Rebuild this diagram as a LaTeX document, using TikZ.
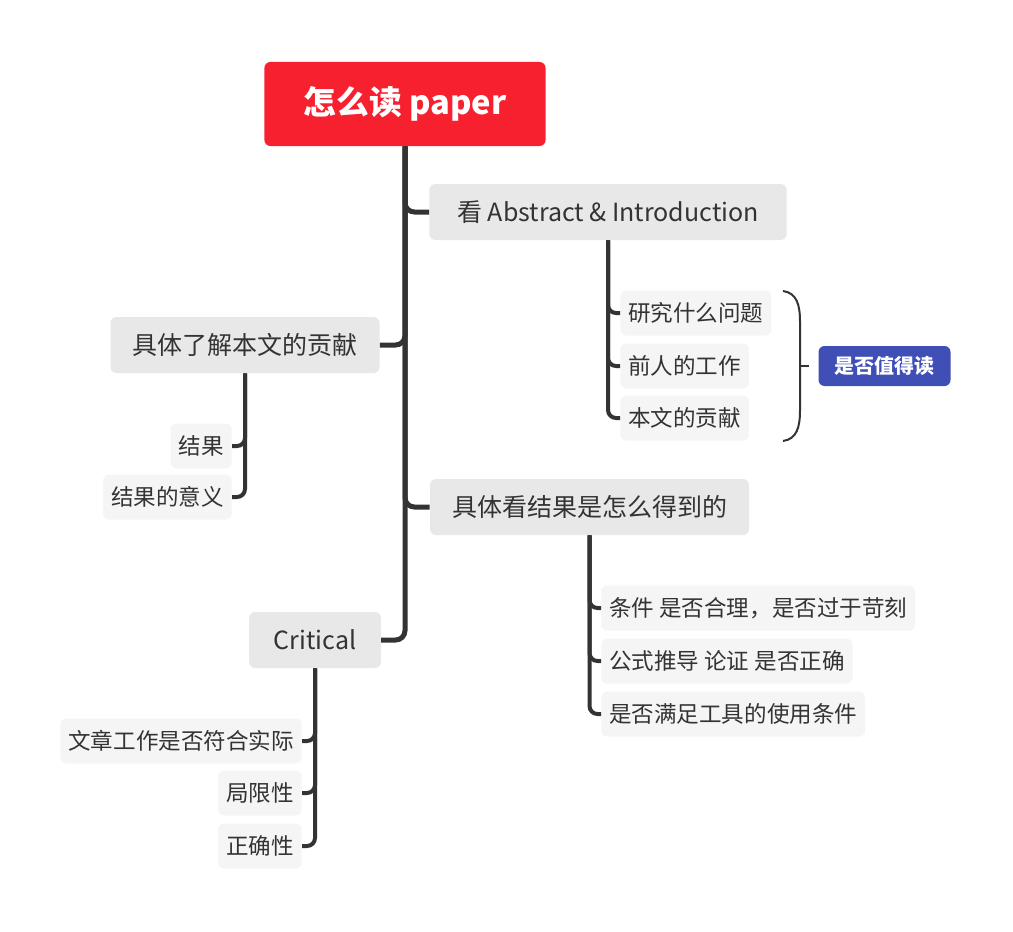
\documentclass[tikz,border=0pt]{standalone}
\usepackage{fontspec}
\setmainfont{Noto Sans CJK SC}
\definecolor{rootred}{HTML}{F6202F}
\definecolor{noteblue}{HTML}{3F4FB5}
\definecolor{topicgray}{HTML}{E8E8E8}
\definecolor{subgray}{HTML}{F5F5F5}
\definecolor{inkgray}{HTML}{333333}
\tikzset{
  rootbox/.style={fill=rootred, text=white, font=\fontsize{24.5}{28}\selectfont\bfseries,
    rounded corners=4.5pt, minimum height=63pt, inner xsep=29.5pt},
  topicbox/.style={fill=topicgray, text=inkgray, font=\fontsize{18.75}{22}\selectfont,
    rounded corners=4.5pt, minimum height=42pt, inner xsep=16.5pt},
  subbox/.style={fill=subgray, text=inkgray, font=\fontsize{16.9}{20}\selectfont,
    rounded corners=4.5pt, minimum height=33.75pt, inner xsep=6pt},
  notebox/.style={fill=noteblue, text=white, font=\fontsize{15}{18}\selectfont\bfseries,
    rounded corners=4.5pt, minimum height=30pt, inner xsep=12pt},
  branch/.style={draw=inkgray, line width=3.75pt, rounded corners=7pt},
  twig/.style={draw=inkgray, line width=3pt, rounded corners=6pt},
}
\begin{document}
\begin{tikzpicture}[x=0.75pt, y=-0.75pt]
  \useasboundingbox (0,0) rectangle (1013,931);
  % main topics
  \node[rootbox]  (root) at (405,104)   {怎么读 paper};
  \node[topicbox, inner xsep=21pt] (abs) at (608,212) {看 Abstract \& Introduction};
  \node[topicbox] (contrib) at (245,345) {具体了解本文的贡献};
  \node[topicbox] (how)  at (589.5,507) {具体看结果是怎么得到的};
  \node[topicbox, inner xsep=18.5pt] (crit) at (315,640) {Critical};
  % subtopics
  \node[subbox, anchor=west] (q1) at (620,313) {研究什么问题};
  \node[subbox, anchor=west] (q2) at (620,366) {前人的工作};
  \node[subbox, anchor=west] (q3) at (620,418) {本文的贡献};
  \node[notebox] (worth) at (884.5,366) {是否值得读};
  \node[subbox, anchor=east] (r1) at (232,446) {结果};
  \node[subbox, anchor=east] (r2) at (232,497) {结果的意义};
  \node[subbox, anchor=west] (h1) at (601,608) {条件 是否合理，是否过于苛刻};
  \node[subbox, anchor=west] (h2) at (601,661) {公式推导 论证 是否正确};
  \node[subbox, anchor=west] (h3) at (601,714) {是否满足工具的使用条件};
  \node[subbox, anchor=east] (c1) at (302,741) {文章工作是否符合实际};
  \node[subbox, anchor=east] (c2) at (302,793) {局限性};
  \node[subbox, anchor=east] (c3) at (302,846) {正确性};
  % trunk and branches
  \draw[branch] (root.south) |- (abs.west);
  \draw[branch] (root.south) |- (contrib.east);
  \draw[branch] (root.south) |- (how.west);
  \draw[branch] (root.south) |- (crit.east);
  \foreach \leaf in {q1,q2,q3} \draw[twig] (abs.south) |- (\leaf.west);
  \foreach \leaf in {r1,r2} \draw[twig] (contrib.south) |- (\leaf.east);
  \foreach \leaf in {h1,h2,h3} \draw[twig] (how.south) |- (\leaf.west);
  \foreach \leaf in {c1,c2,c3} \draw[twig] (crit.south) |- (\leaf.east);
  % summary brace
  \coordinate (tip) at (809,366);
  \draw[inkgray, line width=1.5pt] (783,291) .. controls (797,293) and (800,305) .. (800,322)
    -- (800,410) .. controls (800,427) and (797,439) .. (783,441);
  \draw[inkgray, line width=1.5pt] (800,366) -- (tip);
\end{tikzpicture}
\end{document}
